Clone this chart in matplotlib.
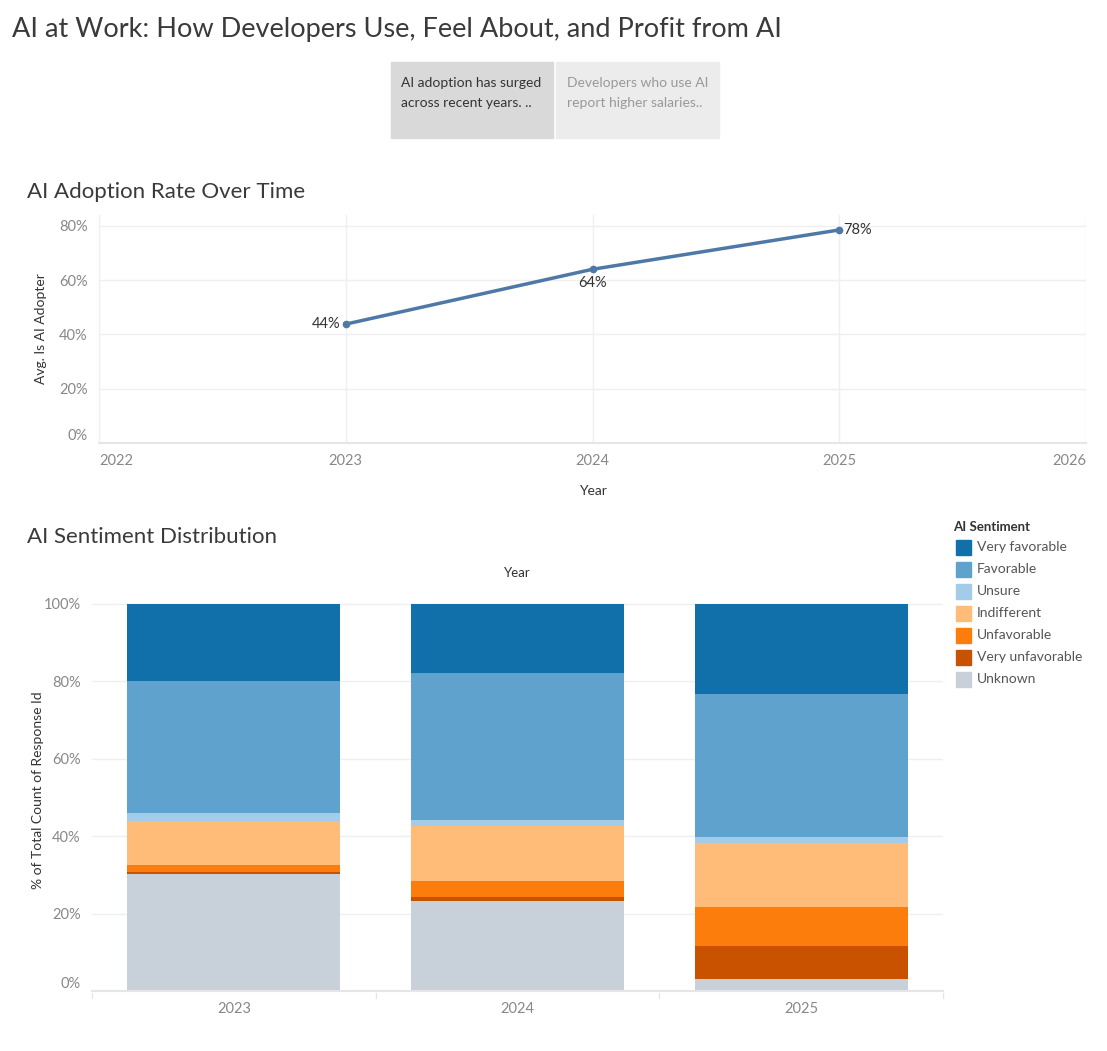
import matplotlib
matplotlib.use('Agg')
import matplotlib.pyplot as plt
from matplotlib.patches import Rectangle
from matplotlib.ticker import PercentFormatter

plt.rcParams['font.family'] = ['Lato', 'DejaVu Sans']

W, H = 1107, 1051

# line chart data
years = [2023, 2024, 2025]
adoption = [0.438, 0.640, 0.785]
adoption_labels = ['44%', '64%', '78%']

# stacked bar data (share of responses per year)
bar_years = ['2023', '2024', '2025']
sentiments = ['Very favorable', 'Favorable', 'Unsure', 'Indifferent',
              'Unfavorable', 'Very unfavorable', 'Unknown']
very_favorable = [0.199, 0.178, 0.233]
favorable = [0.341, 0.380, 0.369]
unsure = [0.022, 0.015, 0.016]
indifferent = [0.112, 0.143, 0.165]
unfavorable = [0.020, 0.041, 0.101]
very_unfavorable = [0.003, 0.010, 0.085]
unknown = [0.303, 0.233, 0.031]

colors = ['#1170aa', '#5fa2ce', '#a3cce9', '#ffbc79', '#fc7d0b', '#c85200', '#c8d0d9']

def px(l, t, r, b):
    return [l / W, 1 - b / H, (r - l) / W, (b - t) / H]

fig = plt.figure(figsize=(W / 100, H / 100), dpi=100)

fig.text(12 / W, 1 - 29 / H, 'AI at Work: How Developers Use, Feel About, and Profit from AI',
         fontsize=19.5, color='#3a3a3a', va='center', ha='left')

# story point boxes
fig.patches.append(Rectangle((391 / W, 1 - 138 / H), 162 / W, 76 / H,
                             transform=fig.transFigure, color='#d9d9d9'))
fig.patches.append(Rectangle((556 / W, 1 - 138 / H), 163 / W, 76 / H,
                             transform=fig.transFigure, color='#ececec'))
fig.text(401 / W, 1 - 93 / H, 'AI adoption has surged\nacross recent years. ..',
         fontsize=10, color='#333333', va='center', ha='left', linespacing=1.8)
fig.text(567 / W, 1 - 93 / H, 'Developers who use AI\nreport higher salaries..',
         fontsize=10, color='#999999', va='center', ha='left', linespacing=1.8)

# ---- line chart ----
fig.text(27 / W, 1 - 192 / H, 'AI Adoption Rate Over Time', fontsize=16,
         color='#3a3a3a', va='center', ha='left')
ax1 = fig.add_axes(px(99, 215, 1086, 443))
ax1.plot(years, adoption, color='#4e79a7', lw=2.5, marker='o', ms=4.5)
ax1.set_xlim(2022, 2026)
ax1.set_ylim(0, 0.84)
ax1.set_xticks([2022, 2023, 2024, 2025, 2026])
ax1.set_yticks([0, 0.2, 0.4, 0.6, 0.8])
ax1.yaxis.set_major_formatter(PercentFormatter(1.0, decimals=0))
ax1.grid(True, color='#efefef', lw=1)
ax1.set_axisbelow(True)
for s in ['top', 'right']:
    ax1.spines[s].set_visible(False)
ax1.spines['left'].set_color('#efefef')
ax1.spines['bottom'].set_color('#e6e6e6')
ax1.spines['bottom'].set_linewidth(1.5)
ax1.tick_params(length=0, colors='#888888', labelsize=10.5, pad=8)
ax1.get_yticklabels()[0].set_va('bottom')
xl = ax1.get_xticklabels()
xl[0].set_ha('left')
xl[-1].set_ha('right')
ax1.set_xlabel('Year', fontsize=10, color='#333333', labelpad=12)
ax1.set_ylabel('Avg. Is AI Adopter', fontsize=10, color='#333333', labelpad=9)
ax1.annotate(adoption_labels[0], (years[0], adoption[0]), xytext=(-4, 0),
             textcoords='offset points', ha='right', va='center', fontsize=10.5, color='#333333')
ax1.annotate(adoption_labels[1], (years[1], adoption[1]), xytext=(0, -5),
             textcoords='offset points', ha='center', va='top', fontsize=10.5, color='#333333')
ax1.annotate(adoption_labels[2], (years[2], adoption[2]), xytext=(3, 0),
             textcoords='offset points', ha='left', va='center', fontsize=10.5, color='#333333')

# ---- stacked bar chart ----
fig.text(27 / W, 1 - 537 / H, 'AI Sentiment Distribution', fontsize=16,
         color='#3a3a3a', va='center', ha='left')
fig.text(517 / W, 1 - 573 / H, 'Year', fontsize=9.5, color='#333333', va='center', ha='center')
ax2 = fig.add_axes(px(92, 590, 943, 991))
series = [very_favorable, favorable, unsure, indifferent, unfavorable, very_unfavorable, unknown]
# stack from bottom: Unknown first
bottom = [0.0, 0.0, 0.0]
x = list(range(len(bar_years)))
for name, vals, c in reversed(list(zip(sentiments, series, colors))):
    ax2.bar(x, vals, bottom=bottom, width=0.75, color=c, label=name)
    bottom = [b + v for b, v in zip(bottom, vals)]
ax2.set_xlim(-0.5, 2.5)
ax2.set_ylim(0, 1.035)
ax2.set_xticks(x)
ax2.set_xticklabels(bar_years)
ax2.set_yticks([0, 0.2, 0.4, 0.6, 0.8, 1.0])
ax2.yaxis.set_major_formatter(PercentFormatter(1.0, decimals=0))
ax2.grid(True, axis='y', color='#efefef', lw=1)
ax2.set_axisbelow(True)
for s in ['top', 'right', 'left']:
    ax2.spines[s].set_visible(False)
ax2.spines['bottom'].set_color('#e6e6e6')
ax2.spines['bottom'].set_linewidth(1.5)
ax2.tick_params(length=0, colors='#888888', labelsize=10.5)
ax2.tick_params(axis='x', pad=8)
ax2.tick_params(axis='y', pad=8)
ax2.get_yticklabels()[0].set_va('bottom')
ax2.set_ylabel('% of Total Count of Response Id', fontsize=10, color='#333333', labelpad=0)
for xb in [-0.5, 0.5, 1.5, 2.5]:
    ax2.plot([xb, xb], [-0.006, -0.018], color='#e6e6e6', lw=1, clip_on=False)

# legend
fig.text(953 / W, 1 - 527 / H, 'AI Sentiment', fontsize=9.5, fontweight='bold',
         color='#333333', va='center', ha='left')
for i, (name, c) in enumerate(zip(sentiments, colors)):
    yc = 547 + 22 * i
    fig.patches.append(Rectangle((956 / W, 1 - (yc + 7.5) / H), 15 / W, 15 / H,
                                 transform=fig.transFigure, color=c))
    fig.text(977 / W, 1 - yc / H, name, fontsize=10, color='#555555', va='center', ha='left')

plt.savefig('out.png', dpi=100)
